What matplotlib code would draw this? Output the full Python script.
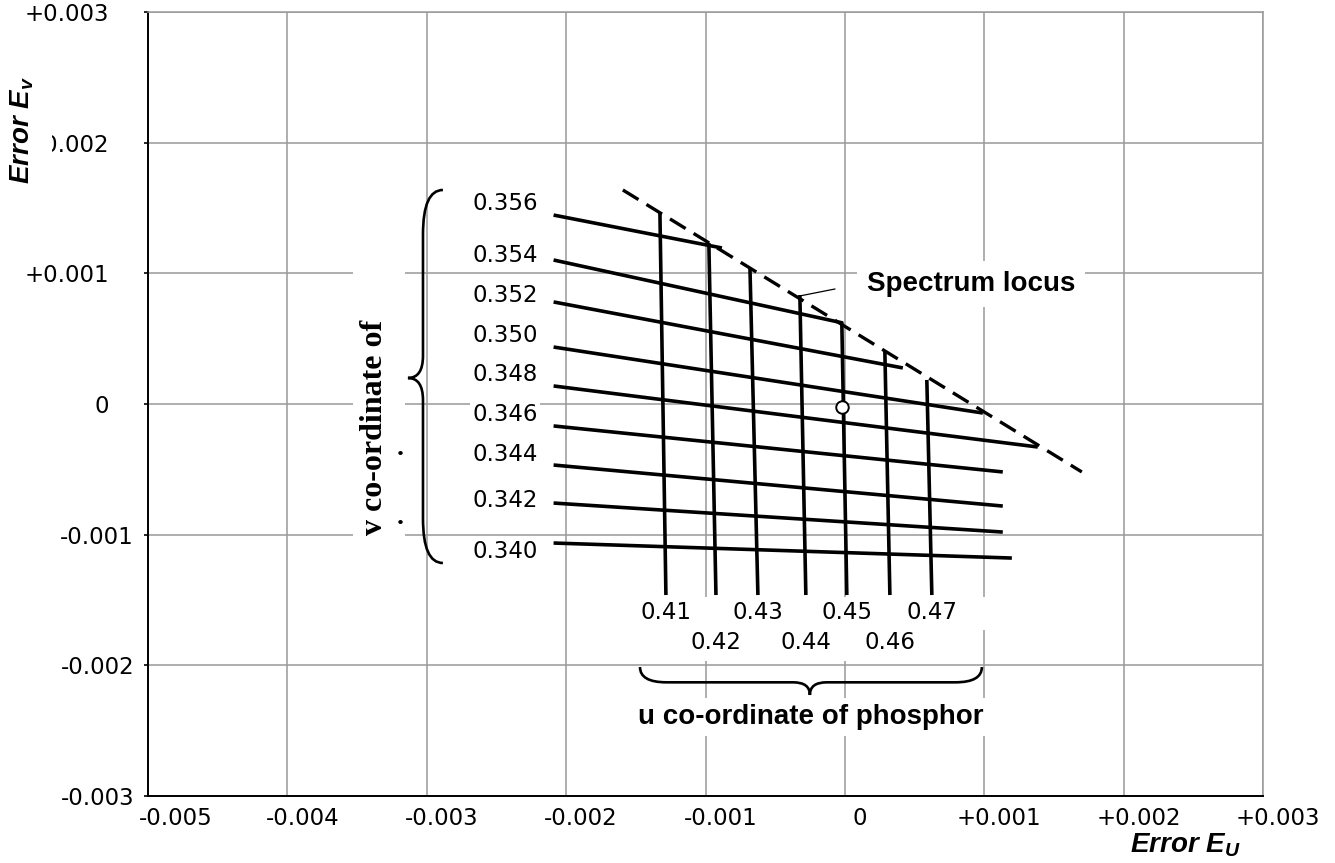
import numpy as np
import matplotlib.pyplot as plt
import matplotlib.transforms as mtransforms
from matplotlib.patches import Rectangle, PathPatch
from matplotlib.path import Path

plt.rcParams['font.family'] = ['DejaVu Sans']
plt.rcParams['mathtext.fontset'] = 'custom'
plt.rcParams['mathtext.it'] = 'Liberation Sans:italic:bold'
plt.rcParams['mathtext.rm'] = 'Liberation Sans:bold'

# axis ticks
x_ticks = [-0.005, -0.004, -0.003, -0.002, -0.001, 0.0, 0.001, 0.002, 0.003]
x_tick_labels = ['-0.005', '-0.004', '-0.003', '-0.002', '-0.001', '0',
                 '+0.001', '+0.002', '+0.003']
y_ticks = [-0.003, -0.002, -0.001, 0.0, 0.001, 0.002, 0.003]
y_tick_labels = ['-0.003', '-0.002', '-0.001', '0', '+0.001', '+0.002', '+0.003']

# lines of constant v co-ordinate of phosphor (Eu, Ev at both ends)
v_values = ['0.356', '0.354', '0.352', '0.350', '0.348', '0.346', '0.344', '0.342', '0.340']
v_left_eu = [-0.00209, -0.00209, -0.00209, -0.00209, -0.00209, -0.00209, -0.00209, -0.00209, -0.00209]
v_left_ev = [0.001446, 0.001102, 0.000781, 0.000436, 0.000138, -0.000168, -0.000467, -0.000758, -0.001064]
v_right_eu = [-0.000882, -0.000014, 0.000416, 0.00099, 0.001384, 0.001133, 0.001133, 0.001133, 0.001198]
v_right_ev = [0.001194, 0.00062, 0.000276, -0.000069, -0.000329, -0.00052, -0.000781, -0.00098, -0.001179]

# lines of constant u co-ordinate of phosphor
u_values = ['0.41', '0.42', '0.43', '0.44', '0.45', '0.46', '0.47']
u_top_eu = [-0.001327, -0.000976, -0.000681, -0.000323, -0.000022, 0.000287, 0.000588]
u_top_ev = [0.001462, 0.001232, 0.001041, 0.000834, 0.000628, 0.000398, 0.000184]
u_bottom_eu = [-0.001284, -0.000925, -0.000624, -0.00028, 0.000014, 0.000323, 0.000624]
u_bottom_ev = [-0.001462, -0.001462, -0.001462, -0.001462, -0.001462, -0.001462, -0.001462]

# spectrum locus
locus_eu = [-0.001593, 0.0017]
locus_ev = [0.001638, -0.00052]
leader_eu = [-0.000323, -0.000072]
leader_ev = [0.000827, 0.00088]

# reference phosphor point
ref_eu = [-0.00002]
ref_ev = [-0.00002]

# label layout
v_label_eu = -0.002439
v_label_ev = [0.001531, 0.00114, 0.000827, 0.000528, 0.000222, -0.000077, -0.000383, -0.000742, -0.001125]
u_label_rows = [-0.001592, -0.001829]

GRID = '#999999'


def brace(ax, a0, a1, base, arm, tip, mid, r_end, r_tip, vertical=False):
    # curly brace between a0 and a1; ends at 'base', arms at 'arm', point at 'tip'
    pts = [(a0, base), (a0, arm), (a0 + r_end, arm),
           (mid - r_tip, arm), (mid, arm), (mid, tip),
           (mid, arm), (mid + r_tip, arm),
           (a1 - r_end, arm), (a1, arm), (a1, base)]
    codes = [Path.MOVETO, Path.CURVE3, Path.CURVE3,
             Path.LINETO, Path.CURVE3, Path.CURVE3,
             Path.CURVE3, Path.CURVE3,
             Path.LINETO, Path.CURVE3, Path.CURVE3]
    if vertical:
        pts = [(p[1], p[0]) for p in pts]
    ax.add_patch(PathPatch(Path(pts, codes), fill=False, lw=1.9,
                           edgecolor='black', zorder=5))


fig = plt.figure(figsize=(13.35, 8.63), dpi=100)
ax = fig.add_axes([148 / 1335, 67 / 863, (1263 - 148) / 1335, (796 - 12) / 863])

ax.set_xlim(-0.005, 0.003)
ax.set_ylim(-0.003, 0.003)
ax.set_xticks(x_ticks, x_tick_labels)
ax.set_yticks(y_ticks, y_tick_labels)
ax.grid(True, color=GRID, lw=1.1)
ax.set_axisbelow(True)
for s in ['left', 'bottom']:
    ax.spines[s].set_color('black')
    ax.spines[s].set_linewidth(1.4)
for s in ['top', 'right']:
    ax.spines[s].set_color(GRID)
    ax.spines[s].set_linewidth(1.1)
ax.tick_params(axis='x', length=0, pad=8, labelsize=16.5)
ax.tick_params(axis='y', length=3, width=1.2, pad=25, labelsize=16.5)

# x labels sit a little right of their ticks, the first one more so
for k, lab in enumerate(ax.get_xticklabels()):
    dx = 0.28 if k == 0 else 0.15
    lab.set_transform(lab.get_transform() +
                      mtransforms.ScaledTranslation(dx, 0, fig.dpi_scale_trans))
# negative y labels sit closer to the axis
shift = mtransforms.ScaledTranslation(0.25, 0, fig.dpi_scale_trans)
for lab in ax.get_yticklabels():
    if lab.get_text().startswith('-'):
        lab.set_transform(lab.get_transform() + shift)

# white backing boxes (label areas)
ax.add_patch(Rectangle((-0.00353, -0.0015), 0.000374, 0.003214,
                       facecolor='white', edgecolor='none', zorder=1.5))
ax.add_patch(Rectangle((-0.00154, -0.00173), 0.00258, 0.000253,
                       facecolor='white', edgecolor='none', zorder=2.5))
ax.add_patch(Rectangle((-0.00104, -0.00197), 0.00187, 0.00024,
                       facecolor='white', edgecolor='none', zorder=2.5))

# v lines
for i in range(len(v_values)):
    ax.plot([v_left_eu[i], v_right_eu[i]], [v_left_ev[i], v_right_ev[i]],
            color='black', lw=2.6, zorder=2, solid_capstyle='butt')
    ax.text(v_label_eu, v_label_ev[i], v_values[i], ha='center', va='center',
            fontsize=16.5, zorder=4,
            bbox=dict(facecolor='white', edgecolor='none', pad=1.5))

# u lines
for i in range(len(u_values)):
    ax.plot([u_top_eu[i], u_bottom_eu[i]], [u_top_ev[i], u_bottom_ev[i]],
            color='black', lw=2.6, zorder=2, solid_capstyle='butt')
    ax.text(u_bottom_eu[i], u_label_rows[i % 2], u_values[i], ha='center',
            va='center', fontsize=16.5, zorder=4)

# spectrum locus
ax.plot(locus_eu, locus_ev, color='black', lw=2.4, ls=(0, (5.5, 2.8)), zorder=3)
ax.plot(leader_eu, leader_ev, color='black', lw=0.9, zorder=3)
ax.text(0.00016, 0.00092, 'Spectrum locus', family='Liberation Sans',
        fontweight='bold', fontsize=20, ha='left', va='center', zorder=4,
        bbox=dict(facecolor='white', edgecolor='none', pad=7))

ax.plot(ref_eu, ref_ev, 'o', ms=9, markerfacecolor='white',
        markeredgecolor='black', mew=1.4, zorder=6)

# braces and group captions
brace(ax, -0.00147, 0.000983, -0.002013, -0.00213, -0.002227, -0.000251,
      0.00019, 0.00012)
ax.text(-0.000245, -0.002395, 'u co-ordinate of phosphor', family='Liberation Sans',
        fontweight='bold', fontsize=20, ha='center', va='center', zorder=4,
        bbox=dict(facecolor='white', edgecolor='none', pad=4))

brace(ax, 0.001638, -0.001217, -0.002884, -0.003027, -0.003135, 0.000199,
      -0.00034, -0.00017, vertical=True)
ax.text(-0.003372, -0.000176, 'v co-ordinate of', family='Liberation Serif',
        fontweight='bold', fontsize=23, rotation=90, ha='center', va='center',
        zorder=4)
ax.text(-0.00319, -0.000337, '.', family='Liberation Serif', fontweight='bold',
        fontsize=20, ha='center', va='center', zorder=4)
ax.text(-0.00319, -0.000865, '.', family='Liberation Serif', fontweight='bold',
        fontsize=20, ha='center', va='center', zorder=4)

# axis titles
fig.text(22 / 1335, 1 - 130 / 863, r'Error $E_v$', family='Liberation Sans',
         fontweight='bold', fontstyle='italic', fontsize=20, rotation=90,
         ha='center', va='center', zorder=10,
         bbox=dict(facecolor='white', edgecolor='none', pad=12))
fig.text(1185 / 1335, 1 - 845 / 863, r'Error $E_U$', family='Liberation Sans',
         fontweight='bold', fontstyle='italic', fontsize=20,
         ha='center', va='center')

fig.savefig('out.png', dpi=100)
